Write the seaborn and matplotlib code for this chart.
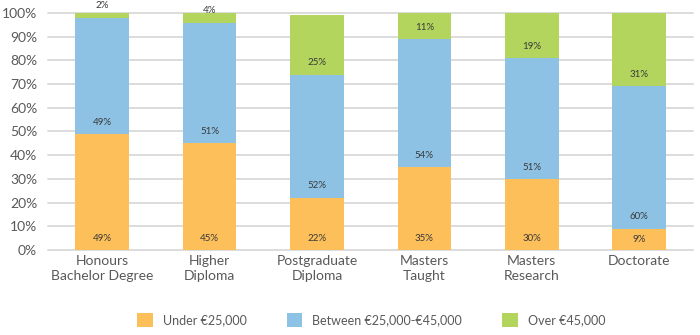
import numpy as np
import pandas as pd
import matplotlib
matplotlib.use("Agg")
import matplotlib.pyplot as plt
from matplotlib.patches import Patch
import seaborn as sns

# Salary distribution by award type (percent of graduates)
categories = ["Honours\nBachelor Degree", "Higher\nDiploma", "Postgraduate\nDiploma",
              "Masters\nTaught", "Masters\nResearch", "Doctorate"]
under_25k = [49, 45, 22, 35, 30, 9]
between_25k_45k = [49, 51, 52, 54, 51, 60]
over_45k = [2, 4, 25, 11, 19, 31]
series_names = ["Under €25,000", "Between €25,000-€45,000", "Over €45,000"]
yticks = list(range(0, 101, 10))

colors = ["#fdbf5a", "#8dc2e4", "#b3d55d"]
text_grey = "#595959"
label_dark = "#3a3a3a"

sns.set_theme(style="white")
plt.rcParams["font.family"] = ["Lato", "DejaVu Sans"]

df = pd.DataFrame({
    "category": categories,
    "under": under_25k,
    "between": between_25k_45k,
    "over": over_45k,
})
df["cum1"] = df["under"]
df["cum2"] = df["under"] + df["between"]
df["cum3"] = df["cum2"] + df["over"]

fig = plt.figure(figsize=(7, 3.35), dpi=100)
ax = fig.add_axes([0.069, 0.254, 0.921, 0.707])

# Stacked bars drawn as overlapping cumulative layers, tallest first
for col, colr in zip(["cum3", "cum2", "cum1"], colors[::-1]):
    sns.barplot(data=df, x="category", y=col, color=colr, width=0.5,
                linewidth=0, saturation=1, ax=ax, zorder=3)

# Segment labels sit just above each segment's base
offset = 5
bottoms = [np.zeros(len(categories)), np.array(under_25k, float),
           np.array(under_25k, float) + np.array(between_25k_45k, float)]
for vals, base in zip([under_25k, between_25k_45k, over_45k], bottoms):
    for i, (v, b) in enumerate(zip(vals, base)):
        y = b + min(offset, v / 2) if b == 0 else b + offset
        ax.text(i, y, f"{v}%", ha="center", va="center", fontsize=7,
                color=label_dark, zorder=5, clip_on=False)

ax.set_ylim(0, 100)
ax.set_xlim(-0.5, len(categories) - 0.5)
ax.set_yticks(yticks)
ax.set_yticklabels([f"{t}%" for t in yticks])
ax.set_xlabel("")
ax.set_ylabel("")
ax.tick_params(axis="y", length=0, pad=8, labelsize=10, labelcolor=text_grey)
ax.tick_params(axis="x", length=0, pad=4, labelsize=10, labelcolor=text_grey)
for lbl in ax.get_xticklabels():
    lbl.set_linespacing(1.25)
for y in yticks:
    ax.axhline(y, color="#d9d9d9", lw=1.3, zorder=1, clip_on=False)
for s in ax.spines.values():
    s.set_visible(False)

handles = [Patch(facecolor=c, edgecolor="none") for c in colors]
fig.legend(handles, series_names, loc="center", bbox_to_anchor=(0.53, 0.045),
           ncol=3, frameon=False, fontsize=9, labelcolor=text_grey,
           handlelength=1.25, handleheight=1.25, handletextpad=0.8,
           columnspacing=3.2)

fig.savefig("out.png", dpi=100)
